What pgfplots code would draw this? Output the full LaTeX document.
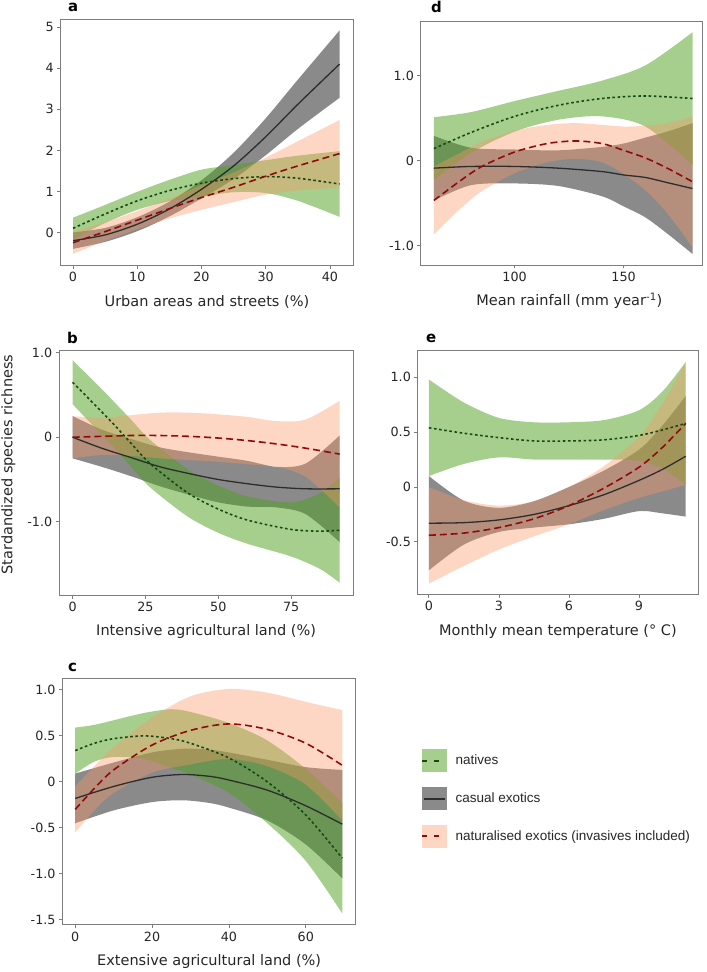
\documentclass[border=0pt]{standalone}
\usepackage{pgfplots}
\pgfplotsset{compat=1.18}
\usepackage{pgfplotstable}
\usepgfplotslibrary{fillbetween}
\usepackage{fontspec}
\setmainfont{DejaVu Sans}
\newfontfamily\legfont{Liberation Sans}
\definecolor{natfill}{RGB}{77,160,30}
\definecolor{natline}{RGB}{20,75,20}
\definecolor{nzfill}{RGB}{250,150,100}
\definecolor{nzline}{RGB}{145,10,10}
\definecolor{casline}{RGB}{45,45,45}
\definecolor{framec}{RGB}{125,125,125}

% panel a
\pgfplotstableread{
x m h
0 0.10 0.26
5 0.45 0.22
10 0.77 0.22
15 1.02 0.26
20 1.20 0.33
25 1.31 0.33
30 1.36 0.40
35 1.32 0.55
41.5 1.18 0.80
}\aN
\pgfplotstableread{
x m h
0 -0.20 0.20
5 -0.06 0.17
10 0.20 0.17
15 0.57 0.18
20 1.05 0.22
25 1.62 0.32
30 2.33 0.45
35 3.12 0.60
41.5 4.10 0.82
}\aC
\pgfplotstableread{
x m h
0 -0.25 0.27
5 0.02 0.23
10 0.30 0.22
15 0.58 0.24
20 0.85 0.30
25 1.10 0.36
30 1.37 0.45
35 1.62 0.60
41.5 1.92 0.82
}\aZ
% panel d
\pgfplotstableread{
x m h
63 0.14 0.37
80 0.33 0.24
100 0.52 0.18
120 0.65 0.17
140 0.73 0.21
160 0.76 0.36
181.6 0.73 0.78
}\dN
\pgfplotstableread{
x m h
63 -0.09 0.38
80 -0.07 0.22
100 -0.07 0.20
120 -0.09 0.21
140 -0.13 0.29
150 -0.17 0.37
160 -0.20 0.47
170 -0.26 0.60
181.6 -0.33 0.77
}\dC
\pgfplotstableread{
x m h
63 -0.47 0.40
75 -0.24 0.33
85 -0.07 0.29
100 0.10 0.25
115 0.20 0.22
128 0.23 0.21
140 0.20 0.22
150 0.12 0.28
160 0.03 0.38
170 -0.09 0.53
181.6 -0.25 0.77
}\dZ
% panel b
\pgfplotstableread{
x m h
0 0.65 0.26
10 0.30 0.27
15 0.12 0.27
20 -0.07 0.28
25 -0.26 0.28
30 -0.41 0.28
40 -0.67 0.28
50 -0.85 0.28
60 -0.98 0.28
75 -1.09 0.32
85 -1.11 0.45
91.6 -1.10 0.62
}\bN
\pgfplotstableread{
x m h
0 0.00 0.25
10 -0.13 0.22
20 -0.24 0.22
30 -0.35 0.23
40 -0.43 0.25
50 -0.50 0.27
60 -0.55 0.27
70 -0.59 0.24
80 -0.61 0.30
91.6 -0.61 0.63
}\bC
\pgfplotstableread{
x m h
0 0.00 0.25
10 0.01 0.22
20 0.02 0.24
30 0.02 0.27
40 0.01 0.28
50 -0.01 0.28
60 -0.04 0.28
70 -0.08 0.27
80 -0.13 0.34
91.6 -0.20 0.63
}\bZ
% panel e
\pgfplotstableread{
x m h
0 0.54 0.44
1.5 0.49 0.28
3 0.45 0.18
4.5 0.42 0.17
6 0.42 0.17
7.5 0.43 0.18
9 0.47 0.23
10 0.52 0.35
11 0.58 0.56
}\eN
\pgfplotstableread{
x m h
0 -0.33 0.43
1.5 -0.325 0.20
3 -0.30 0.11
4.5 -0.25 0.12
6 -0.17 0.17
7.5 -0.07 0.22
9 0.06 0.28
10 0.16 0.40
11 0.28 0.55
}\eC
\pgfplotstableread{
x m h
0 -0.44 0.44
1.5 -0.42 0.30
3 -0.37 0.20
4.5 -0.29 0.16
6 -0.17 0.17
7.5 -0.01 0.20
9 0.18 0.28
10 0.36 0.40
11 0.58 0.56
}\eZ
% panel c
\pgfplotstableread{
x m h
0 0.34 0.25
5 0.42 0.20
10 0.47 0.20
18 0.50 0.25
25 0.47 0.32
30 0.42 0.34
40 0.26 0.38
50 0.00 0.45
60 -0.36 0.50
69.5 -0.83 0.60
}\cN
\pgfplotstableread{
x m h
0 -0.18 0.27
10 -0.05 0.26
20 0.05 0.27
28 0.08 0.28
35 0.06 0.29
40 0.02 0.30
50 -0.09 0.33
60 -0.26 0.42
69.5 -0.46 0.59
}\cC
\pgfplotstableread{
x m h
0 -0.30 0.25
5 -0.07 0.24
10 0.13 0.25
20 0.40 0.30
30 0.56 0.37
40 0.63 0.38
50 0.57 0.40
60 0.42 0.45
69.5 0.18 0.60
}\cZ

\pgfplotsset{
  natF/.style={fill=natfill, fill opacity=0.5, draw=none},
  casF/.style={fill=black, fill opacity=0.46, draw=none},
  nzF/.style={fill=nzfill, fill opacity=0.38, draw=none},
  natL/.style={natline, line width=1.6bp, dash pattern=on 2.6bp off 2.6bp},
  casL/.style={casline, line width=1.3bp},
  nzL/.style={nzline, line width=1.6bp, dash pattern=on 7bp off 4bp},
  panel/.style={
    scale only axis, anchor=north west,
    tick pos=left, tick align=outside, major tick length=3.5bp,
    axis line style={framec, line width=0.8bp},
    tick style={framec, line width=0.8bp},
    tick label style={font=\fontsize{12.8}{14}\selectfont, text=black!85},
    label style={font=\fontsize{14.6}{17}\selectfont, text=black!85},
    /pgf/number format/assume math mode=true,
    xlabel style={at={(axis description cs:0.5,0)}, anchor=base, yshift=-41bp},
  },
}

\newcommand{\band}[3]{%
  \addplot[draw=none, smooth, forget plot, name path=#2U] table[x=x, y expr=\thisrow{m}+\thisrow{h}] {#1};
  \addplot[draw=none, smooth, forget plot, name path=#2L] table[x=x, y expr=\thisrow{m}-\thisrow{h}] {#1};
  \addplot[#3, forget plot] fill between[of=#2U and #2L];
}
\newcommand{\mline}[2]{%
  \addplot[#2, smooth, forget plot] table[x=x, y=m] {#1};
}
\newcommand{\panelplots}[4]{% tables N, C, Z, id
  \band{#2}{#4c}{casF}
  \band{#1}{#4n}{natF}
  \band{#3}{#4z}{nzF}
  \mline{#2}{casL}
  \mline{#1}{natL}
  \mline{#3}{nzL}
}

\begin{document}
\begin{tikzpicture}

% panel a
\begin{axis}[panel, at={(61bp,-19bp)}, width=293bp, height=247bp,
  xmin=-1.9, xmax=43.6, ymin=-0.8, ymax=5.2,
  xtick={0,10,20,30,40}, ytick={0,1,2,3,4,5},
  xlabel={Urban areas and streets (\%)}]
  \panelplots{\aN}{\aC}{\aZ}{pa}
\end{axis}

% panel d
\begin{axis}[panel, at={(422bp,-21.7bp)}, width=282bp, height=244bp,
  xmin=57, xmax=186, ymin=-1.23, ymax=1.635,
  xtick={100,150}, ytick={-1,0,1}, yticklabels={-1.0,0,1.0},
  xlabel style={at={(axis description cs:0.528,0)}},
  xlabel={Mean rainfall (mm year\textsuperscript{-1})}]
  \panelplots{\dN}{\dC}{\dZ}{pd}
\end{axis}

% panel b
\begin{axis}[panel, at={(59.3bp,-351bp)}, width=294.7bp, height=245.7bp,
  xmin=-4.6, xmax=96.2, ymin=-1.866, ymax=1.03,
  xtick={0,25,50,75}, ytick={-1,0,1}, yticklabels={-1.0,0,1.0},
  xlabel={Intensive agricultural land (\%)}]
  \panelplots{\bN}{\bC}{\bZ}{pb}
\end{axis}

% panel e
\begin{axis}[panel, at={(419bp,-351.7bp)}, width=281bp, height=244.3bp,
  xmin=-0.47, xmax=11.53, ymin=-0.979, ymax=1.242,
  xtick={0,3,6,9}, ytick={-0.5,0,0.5,1}, yticklabels={-0.5,0,0.5,1.0},
  xlabel={Monthly mean temperature (° C)}]
  \panelplots{\eN}{\eC}{\eZ}{pe}
\end{axis}

% panel c
\begin{axis}[panel, at={(62.7bp,-680.7bp)}, width=294bp, height=246.6bp,
  xmin=-3.3, xmax=73, ymin=-1.554, ymax=1.12,
  xtick={0,20,40,60}, ytick={-1.5,-1,-0.5,0,0.5,1},
  yticklabels={-1.5,-1.0,-0.5,0,0.5,1.0},
  xlabel={Extensive agricultural land (\%)},
  legend style={at={(1.2231,0.716)}, anchor=north west, draw=none, fill=none,
    inner sep=0pt, row sep=14.4bp, column sep=8.7bp,
    font=\legfont\fontsize{13.6}{16}\selectfont, text=black!85,
    nodes={inner sep=0pt, outer sep=0pt}},
  legend cell align=left]
  \panelplots{\cN}{\cC}{\cZ}{pc}
  \addlegendimage{legend image code/.code={
    \fill[natfill, fill opacity=0.5, draw=none] (0bp,-11.8bp) rectangle (24.7bp,11.8bp);
    \draw[natline, line width=2bp, dash pattern=on 5bp off 6.5bp] (0bp,0bp) -- (19bp,0bp);}}
  \addlegendentry{natives}
  \addlegendimage{legend image code/.code={
    \fill[black, fill opacity=0.46, draw=none] (0bp,-11.8bp) rectangle (24.7bp,11.8bp);
    \draw[casline, line width=2bp, solid] (1.5bp,0bp) -- (23.2bp,0bp);}}
  \addlegendentry{casual exotics}
  \addlegendimage{legend image code/.code={
    \fill[nzfill, fill opacity=0.38, draw=none] (0bp,-11.8bp) rectangle (24.7bp,11.8bp);
    \draw[nzline, line width=2bp, dash pattern=on 5bp off 6.5bp] (0bp,0bp) -- (19bp,0bp);}}
  \addlegendentry{naturalised exotics (invasives included)}
\end{axis}

% panel letters and shared y label
\begin{scope}[every node/.style={font=\fontsize{15}{18}\selectfont\bfseries, inner sep=0pt, anchor=base west}]
  \node at (68bp,-12bp) {a};
  \node at (432bp,-13bp) {d};
  \node at (67bp,-344bp) {b};
  \node at (427bp,-343.3bp) {e};
  \node at (68bp,-673.3bp) {c};
\end{scope}
\node[rotate=90, anchor=base, inner sep=0pt, font=\fontsize{14.6}{17}\selectfont, text=black!85] at (12.4bp,-465.7bp) {Stardandized species richness};
\path (0,0) rectangle (708bp,-972bp);
\end{tikzpicture}
\end{document}
